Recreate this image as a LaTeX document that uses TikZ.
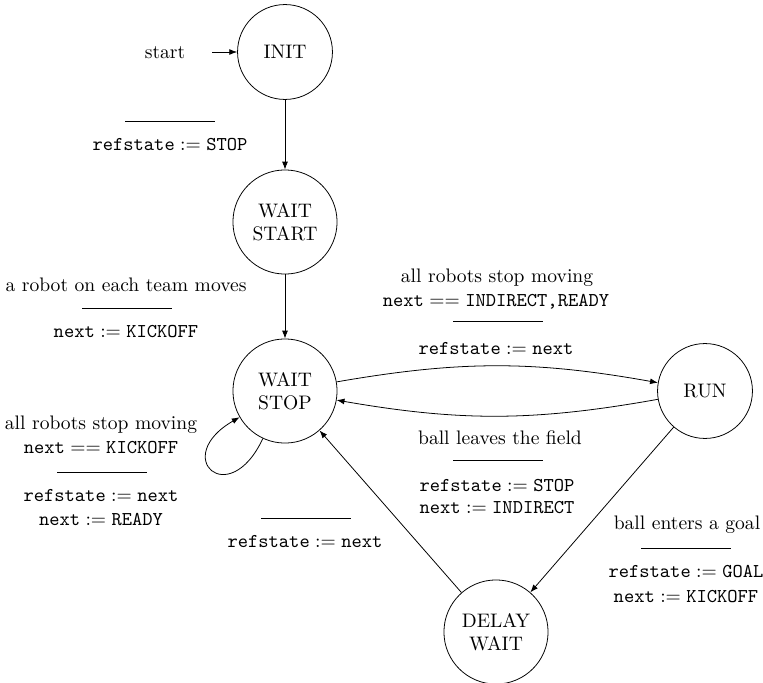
\documentclass[tikz,border=0pt]{standalone}
\usetikzlibrary{arrows.meta}
\newcommand{\asn}{${}:={}$}
\newcommand{\eqq}{${}=={}$}
\begin{document}
\begin{tikzpicture}[x=0.511pt,y=-0.511pt,
  >={Latex[length=4pt,width=3pt]},
  st/.style={draw,circle,inner sep=0pt,align=center},
  stsmall/.style={st,minimum size=48.5pt},
  stbig/.style={st,minimum size=53.2pt},
  lbl/.style={inner sep=0pt},
  bar/.style={line width=0.4pt}]
\useasboundingbox (0,0) rectangle (763,683);
% states
\node[stsmall] (init) at (285,52) {INIT};
\node[stbig] (wstart) at (285,222) {WAIT\\START};
\node[stbig] (wstop) at (285,391) {WAIT\\STOP};
\node[stsmall] (run) at (705,391) {RUN};
\node[stbig] (delay) at (496,632) {DELAY\\WAIT};
% start
\node[lbl] (start) at (165,53) {start};
\coordinate (startpt) at (212,52);
% edges
\draw[->] (startpt) -- (init);
\draw[->] (init) -- (wstart);
\draw[->] (wstart) -- (wstop);
\draw[->] (wstop) to[bend left=10] (run);
\draw[->] (run) to[bend left=10] (wstop);
\draw[->] (wstop.245) .. controls +(245:41pt) and +(210:41pt) .. (wstop.210);
\draw[->] (run) -- (delay);
\draw[->] (delay) -- (wstop);
% label INIT -> WAIT START
\draw[bar] (125,121) -- (215,121);
\node[lbl] (l1a) at (170,145) {\texttt{refstate}\asn\texttt{STOP}};
% label WAIT START -> WAIT STOP
\node[lbl] (l2c) at (126,285) {a robot on each team moves};
\draw[bar] (82,308) -- (172,308);
\node[lbl] (l2a) at (126,332) {\texttt{next}\asn\texttt{KICKOFF}};
% label WAIT STOP -> RUN
\node[lbl] (l3c) at (497,278) {all robots stop moving};
\node[lbl] (l3d) at (496,302) {\texttt{next}\eqq\texttt{INDIRECT,READY}};
\draw[bar] (453,321) -- (543,321);
\node[lbl] (l3a) at (496,349) {\texttt{refstate}\asn\texttt{next}};
% label RUN -> WAIT STOP
\node[lbl] (l4c) at (500,438) {ball leaves the field};
\draw[bar] (453,460) -- (543,460);
\node[lbl] (l4a) at (497,486) {\texttt{refstate}\asn\texttt{STOP}};
\node[lbl] (l4b) at (497,508) {\texttt{next}\asn\texttt{INDIRECT}};
% loop label
\node[lbl] (l5c) at (101,425) {all robots stop moving};
\node[lbl] (l5d) at (101,448) {\texttt{next}\eqq\texttt{KICKOFF}};
\draw[bar] (57,472) -- (147,472);
\node[lbl] (l5a) at (101,496) {\texttt{refstate}\asn\texttt{next}};
\node[lbl] (l5b) at (101,520) {\texttt{next}\asn\texttt{READY}};
% label DELAY WAIT -> WAIT STOP
\draw[bar] (261,518) -- (351,518);
\node[lbl] (l6a) at (305,542) {\texttt{refstate}\asn\texttt{next}};
% label RUN -> DELAY WAIT
\node[lbl] (l7c) at (687,525) {ball enters a goal};
\draw[bar] (641,548) -- (731,548);
\node[lbl] (l7a) at (686,572) {\texttt{refstate}\asn\texttt{GOAL}};
\node[lbl] (l7b) at (686,597) {\texttt{next}\asn\texttt{KICKOFF}};
\end{tikzpicture}
\end{document}
